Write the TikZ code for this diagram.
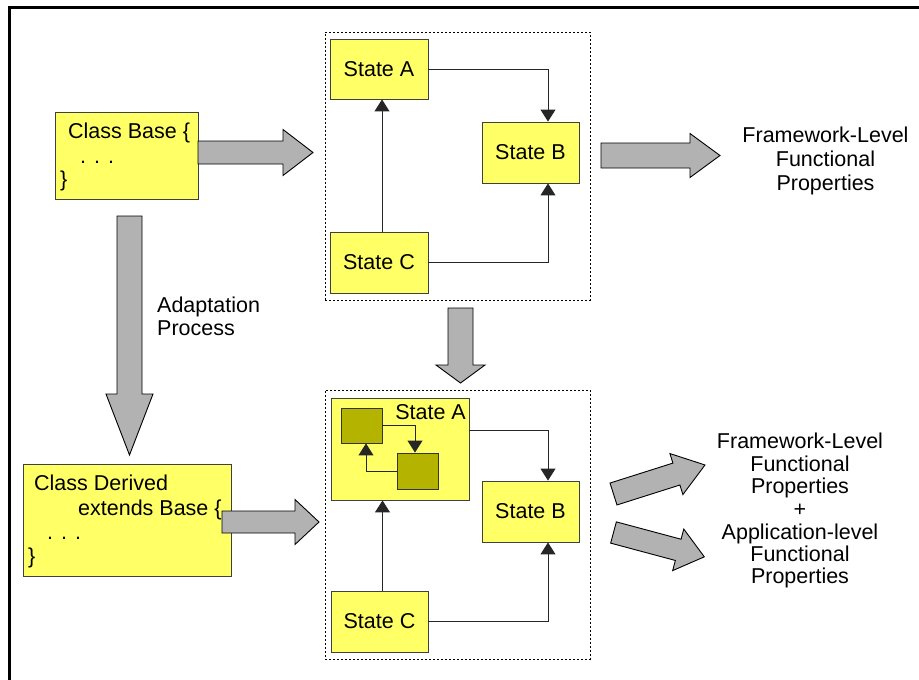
\documentclass[tikz,border=0pt]{standalone}
\usepackage{fontspec}
\setmainfont{Liberation Sans}
\usetikzlibrary{arrows.meta}
\definecolor{boxyellow}{HTML}{FFFF66}
\definecolor{oliveshade}{HTML}{B3B300}
\definecolor{arrowgray}{HTML}{B2B2B2}

% block arrow: start point, angle, length, body width, head width, head length
\newcommand\blockarrow[6]{%
  \draw[blockarr,shift={(#1)},rotate=#2]
    (0,{-#4/2}) -- ({#3-#6},{-#4/2}) -- ({#3-#6},{-#5/2}) -- (#3,0)
    -- ({#3-#6},{#5/2}) -- ({#3-#6},{#4/2}) -- (0,{#4/2}) -- cycle;}

\begin{document}
\begin{tikzpicture}[x=1pt,y=-1pt,
  every node/.style={font=\fontsize{21.5}{24}\selectfont, inner sep=0pt},
  sz/.style 2 args={minimum width=#1pt, minimum height=#2pt},
  ybox/.style={draw=black!75, fill=boxyellow, line width=0.9pt},
  obox/.style={draw=black!80, fill=oliveshade, line width=0.9pt},
  grp/.style={draw=black, line width=0.7pt, dash pattern=on 2pt off 2pt},
  link/.style={draw=black!85, line width=1pt, -{Triangle[width=15pt,length=12pt]}},
  blockarr/.style={draw=black, fill=arrowgray, line width=0.9pt, line join=miter},
  lbl/.style={anchor=base west},
  ctr/.style={anchor=base},
]
\useasboundingbox (0,0) rectangle (919,680);
\fill[white] (0,0) rectangle (919,680);

% outer frame
\draw[line width=3pt] (9.5,680) |- (919,7);

% ---- upper state machine ----
\node[grp, sz={265}{268}] (grpT) at (457.5,166) {};
\node[ybox, sz={98}{60}] (stA1) at (379,69) {State A};
\node[ybox, sz={97}{61}] (stB1) at (530.5,152.5) {State B};
\node[ybox, sz={98}{61}] (stC1) at (379,262.5) {State C};
\coordinate (jB1) at (548,0);
\draw[link] (stA1.east) -| (jB1 |- stB1.north);
\draw[link] ([xshift=3pt]stC1.north) -- ([xshift=3pt]stA1.south);
\draw[link] (stC1.east) -| (jB1 |- stB1.south);

% ---- lower state machine ----
\node[grp, sz={265}{269}] (grpB) at (457.5,524.5) {};
\node[ybox, sz={138}{102}] (stA2) at (400,449) {};
\node[anchor=base east] (stA2lbl) at (466,419) {State A};
\node[obox, sz={41}{35}] (sqa) at (361.5,425.5) {};
\node[obox, sz={41}{36}] (sqb) at (417.5,471) {};
\draw[link] (sqa.east) -| ([xshift=-2.5pt]sqb.north);
\draw[link] (sqb.west) -| ([xshift=4.5pt]sqa.south);
\node[ybox, sz={97}{61}] (stB2) at (530.5,511.5) {State B};
\node[ybox, sz={97}{61}] (stC2) at (379.5,621.5) {State C};
\coordinate (jB2) at (548,0);
\draw[link] ([yshift=19pt]stA2.east) -| (jB2 |- stB2.north);
\draw[link] ([xshift=3pt]stC2.north) -- ([xshift=3pt]stC2.north |- stA2.south);
\draw[link] (stC2.east) -| (jB2 |- stB2.south);

% ---- class boxes ----
\node[ybox, sz={143}{87}] (base) at (126.5,155.5) {};
\node[lbl] (cb1) at (68,138) {Class Base \{};
\node[lbl] (cb2) at (80,163) {. . .};
\node[lbl] (cb3) at (60,186) {\}};

\node[ybox, sz={208}{112}] (derived) at (127,520) {};
\node[lbl] (cd1) at (34,490) {Class Derived};
\node[lbl] (cd2) at (78,515) {extends Base \{};
\node[lbl] (cd3) at (47,539) {. . .};
\node[lbl] (cd4) at (28,563) {\}};

% ---- block arrows ----
\blockarrow{198,152.5}{0}{115}{23}{46}{30}
\blockarrow{601,155.5}{0}{119}{25}{44}{30}
\blockarrow{129.5,216}{-90}{239}{25}{47}{61}
\blockarrow{460.5,308}{-90}{75}{25}{49}{18}
\blockarrow{222,522}{0}{97}{22}{45}{24}
\blockarrow{613.5,494}{17.6}{96}{23}{43}{30}
\blockarrow{613.5,532.5}{-15}{94}{22}{43}{27}

% ---- labels ----
\node[lbl] (ad1) at (157,312) {Adaptation};
\node[lbl] (ad2) at (157,335) {Process};

\node[ctr] (fa1) at (825.5,142) {Framework-Level};
\node[ctr] (fa2) at (825.5,166) {Functional};
\node[ctr] (fa3) at (825.5,190) {Properties};

\node[ctr] (fb1) at (800,448) {Framework-Level};
\node[ctr] (fb2) at (800,471) {Functional};
\node[ctr] (fb3) at (800,493) {Properties};
\node[ctr] (fb4) at (800,516) {+};
\node[ctr] (fb5) at (800,539) {Application-level};
\node[ctr] (fb6) at (800,561) {Functional};
\node[ctr] (fb7) at (800,583) {Properties};
\end{tikzpicture}
\end{document}
